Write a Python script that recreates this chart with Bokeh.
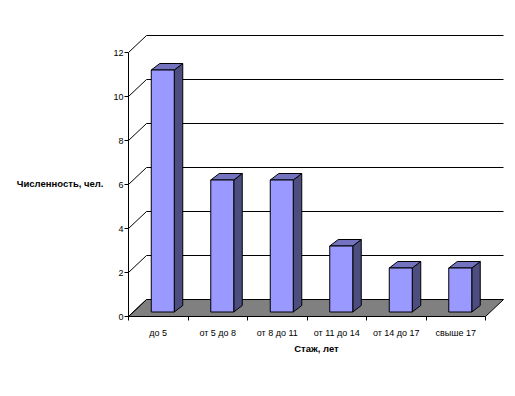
from bokeh.plotting import figure
from bokeh.models import Range1d, LinearAxis, FixedTicker
from bokeh.embed import file_html
from bokeh.resources import INLINE

# ---- data ----
categories = ["до 5", "от 5 до 8", "от 8 до 11", "от 11 до 14", "от 14 до 17", "свыше 17"]
values = [11, 6, 6, 3, 2, 2]
y_ticks = [0, 2, 4, 6, 8, 10, 12]
x_title = "Стаж, лет"
y_title = "Численность, чел."

# ---- layout / style ----
W, H = 515, 396
LEFT, RIGHT, TOP, BOTTOM = 128, 11, 34, 80
XS = 59.5   # px per category
YS = 22.0   # px per value unit
frame_w = W - LEFT - RIGHT
frame_h = H - TOP - BOTTOM
FONT = "Liberation Sans"

n = len(categories)
ymax = max(y_ticks)
DX, DY = 18 / XS, 17 / YS          # wall depth
F0X, F0Y = 4.5 / XS, 4.5 / YS      # bar front offset into depth
BDX, BDY = 8.5 / XS, 6.5 / YS      # bar depth
BW = 23 / XS                       # bar width

p = figure(width=W, height=H,
           x_range=Range1d(0, frame_w / XS), y_range=Range1d(0, frame_h / YS),
           x_axis_type=None, y_axis_type=None,
           toolbar_location=None, output_backend="svg",
           min_border_left=LEFT, min_border_right=RIGHT,
           min_border_top=TOP, min_border_bottom=BOTTOM)
p.outline_line_color = None
p.background_fill_color = "white"
p.border_fill_color = "white"

# floor
p.patch([0, n, n + DX, DX], [0, 0, DY, DY],
        fill_color="#808080", line_color="black", line_width=1)

# walls gridlines
gx = [[0, DX] for v in y_ticks] + [[DX, n + DX] for v in y_ticks if v > 0]
gy = [[v, v + DY] for v in y_ticks] + [[v + DY, v + DY] for v in y_ticks if v > 0]
p.multi_line(gx, gy, line_color="black", line_width=1)

# bars
front_l, front_r, front_b, front_t = [], [], [], []
top_x, top_y, side_x, side_y = [], [], [], []
for i, v in enumerate(values):
    x0 = i + 0.5 - BW / 2 + F0X
    x1 = x0 + BW
    y0 = F0Y
    y1 = v + F0Y
    front_l.append(x0); front_r.append(x1); front_b.append(y0); front_t.append(y1)
    top_x.append([x0, x1, x1 + BDX, x0 + BDX])
    top_y.append([y1, y1, y1 + BDY, y1 + BDY])
    side_x.append([x1, x1 + BDX, x1 + BDX, x1])
    side_y.append([y0, y0 + BDY, y1 + BDY, y1])

p.patches(side_x, side_y, fill_color="#4D4D80", line_color="black", line_width=1)
p.patches(top_x, top_y, fill_color="#7373BF", line_color="black", line_width=1)
p.quad(left=front_l, right=front_r, bottom=front_b, top=front_t,
       fill_color="#9999FF", line_color="black", line_width=1)

# y axis
yaxis = LinearAxis(ticker=FixedTicker(ticks=y_ticks, minor_ticks=[]), bounds=(0, ymax))
yaxis.axis_line_color = "black"
yaxis.major_tick_line_color = "black"
yaxis.major_tick_out = 4
yaxis.major_tick_in = 0
yaxis.minor_tick_line_color = None
yaxis.major_label_standoff = 1
yaxis.major_label_text_font = FONT
yaxis.major_label_text_font_size = "9px"
yaxis.major_label_text_color = "black"
yaxis.axis_label = "\n" + y_title
yaxis.axis_label_orientation = "horizontal"
yaxis.axis_label_standoff = 7
yaxis.axis_label_text_font = FONT
yaxis.axis_label_text_font_size = "9.5px"
yaxis.axis_label_text_font_style = "bold"
yaxis.axis_label_text_color = "black"
yaxis.axis_label_text_line_height = 1.5
p.add_layout(yaxis, "left")

# x axis
xaxis = LinearAxis(ticker=FixedTicker(ticks=[i + 0.5 for i in range(n)],
                                      minor_ticks=list(range(n + 1))),
                   bounds=(0, n))
xaxis.major_label_overrides = {i + 0.5: c for i, c in enumerate(categories)}
xaxis.axis_line_color = "black"
xaxis.major_tick_line_color = None
xaxis.major_tick_out = 0
xaxis.major_tick_in = 0
xaxis.minor_tick_line_color = "black"
xaxis.minor_tick_out = 4
xaxis.minor_tick_in = 0
xaxis.major_label_standoff = 7
xaxis.major_label_text_font = FONT
xaxis.major_label_text_font_size = "9px"
xaxis.major_label_text_color = "black"
xaxis.axis_label = x_title
xaxis.axis_label_standoff = 2
xaxis.axis_label_text_font = FONT
xaxis.axis_label_text_font_size = "9.5px"
xaxis.axis_label_text_font_style = "bold"
xaxis.axis_label_text_color = "black"
p.add_layout(xaxis, "below")

open("out.html", "w").write(file_html(p, INLINE))
